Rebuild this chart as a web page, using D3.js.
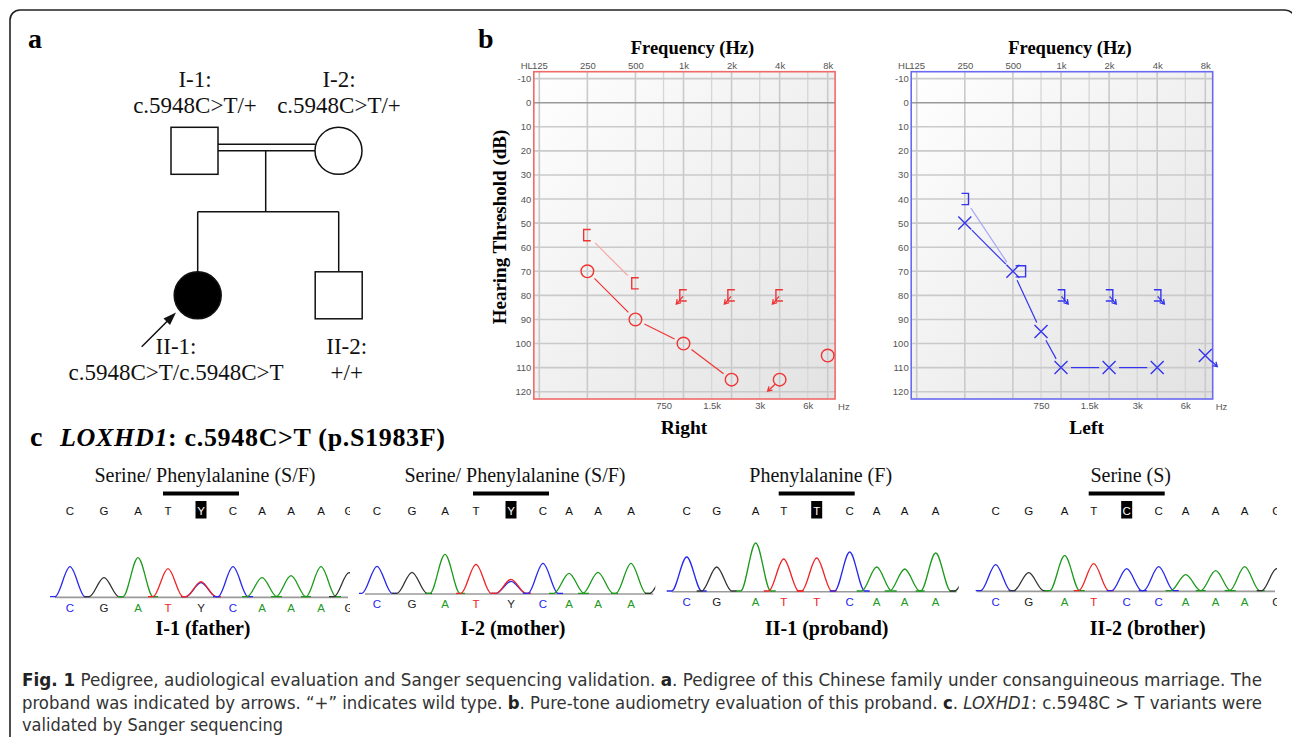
<!DOCTYPE html>
<html>
<head>
<meta charset="utf-8">
<script src="https://cdn.jsdelivr.net/npm/d3@7"></script>
<style>
  body { margin: 0; background: #fff; }
  svg { display: block; }
</style>
</head>
<body>
<div id="fig"></div>
<script>
// ---- data ----
// audiogram axes
const freqTicks = [125, 250, 500, 1000, 2000, 4000, 8000];
const freqTickLabels = ["125", "250", "500", "1k", "2k", "4k", "8k"];
const midFreqTicks = [750, 1500, 3000, 6000];
const midFreqLabels = ["750", "1.5k", "3k", "6k"];
const dbTicks = [-10, 0, 10, 20, 30, 40, 50, 60, 70, 80, 90, 100, 110, 120];

// right ear: air (circles) and masked bone ([)
const rightAirFreq = [250, 500, 1000, 2000, 4000, 8000];
const rightAirDb = [70, 90, 100, 115, 115, 105];
const rightAirNoResp = [0, 0, 0, 0, 1, 0];
const rightAirJoin = [1, 1, 1, 0, 0];
const rightBoneFreq = [250, 500, 1000, 2000, 4000];
const rightBoneDb = [55, 75, 80, 80, 80];
const rightBoneNoResp = [0, 0, 1, 1, 1];
const rightBoneJoin = [1, 0, 0, 0];

// left ear: air (crosses) and masked bone (])
const leftAirFreq = [250, 500, 750, 1000, 2000, 4000, 8000];
const leftAirDb = [50, 70, 95, 110, 110, 110, 105];
const leftAirNoResp = [0, 0, 0, 0, 0, 0, 1];
const leftAirJoin = [1, 1, 1, 1, 1, 0];
const leftBoneFreq = [250, 500, 1000, 2000, 4000];
const leftBoneDb = [40, 70, 80, 80, 80];
const leftBoneNoResp = [0, 0, 1, 1, 1];
const leftBoneJoin = [1, 0, 0, 0];

// pedigree
const pedIds = ["I-1:", "I-2:", "II-1:", "II-2:"];
const pedGenotypes = ["c.5948C>T/+", "c.5948C>T/+", "c.5948C>T/c.5948C>T", "+/+"];
const pedSex = ["M", "F", "F", "M"];
const pedAffected = [0, 0, 1, 0];

// sanger traces (scan position, called base, peak height, minor peak at Y)
const seqSamples = ["I-1 (father)", "I-2 (mother)", "II-1 (proband)", "II-2 (brother)"];
const seqTitles = ["Serine/ Phenylalanine (S/F)", "Serine/ Phenylalanine (S/F)", "Phenylalanine (F)", "Serine (S)"];
const seqVariantIndex = 4;
const fatherScan = [15, 49, 83, 113, 146, 178, 207, 236, 266, 294];
const fatherCalls = ["C", "G", "A", "T", "Y", "C", "A", "A", "A", "G"];
const fatherHeight = [30, 19, 39, 28, 15, 30, 19, 21, 30, 24];
const fatherMinor = [0, 0, 0, 0, 14, 0, 0, 0, 0, 0];
const motherScan = [12, 47, 80, 111, 146, 178, 204, 233, 266, 300];
const motherCalls = ["C", "G", "A", "T", "Y", "C", "A", "A", "A", "G"];
const motherHeight = [27, 21, 39, 29, 14, 30, 20, 21, 30, 20];
const motherMinor = [0, 0, 0, 0, 12, 0, 0, 0, 0, 0];
const probandScan = [15, 45, 84, 112, 145, 178, 205, 233, 264, 298];
const probandCalls = ["C", "G", "A", "T", "T", "C", "A", "A", "A", "G"];
const probandHeight = [34, 24, 48, 32, 33, 39, 24, 22, 38, 20];
const probandMinor = [0, 0, 0, 0, 0, 0, 0, 0, 0, 0];
const brotherScan = [19, 52, 88, 117, 150, 182, 209, 239, 268, 300];
const brotherCalls = ["C", "G", "A", "T", "C", "C", "A", "A", "A", "G"];
const brotherHeight = [26, 18, 35, 27, 22, 24, 16, 20, 24, 22];
const brotherMinor = [0, 0, 0, 0, 0, 0, 0, 0, 0, 0];

// ---- layout ----
const W = 1292, H = 737;
const serif = "'Liberation Serif', 'Times New Roman', serif";
const sans = "'Liberation Sans', Arial, sans-serif";
const baseColor = { A: "#1c9a1c", C: "#2727ee", G: "#222", T: "#ee2424", Y: "#222" };

const svg = d3.select("#fig").append("svg")
  .attr("width", W)
  .attr("height", H);
const defs = svg.append("defs");

// outer frame
svg.append("rect")
  .attr("x", 10).attr("y", 10)
  .attr("width", 1285).attr("height", 800)
  .attr("rx", 10)
  .attr("fill", "none")
  .attr("stroke", "#222")
  .attr("stroke-width", 1.6);

// panel letters
[["a", 28, 48], ["b", 478, 48], ["c", 30, 446]].forEach(([t, x, y]) => {
  svg.append("text")
    .attr("x", x).attr("y", y)
    .style("font-family", serif)
    .style("font-weight", "bold")
    .style("font-size", "28px")
    .text(t);
});

// ---- a: pedigree ----
const ped = svg.append("g")
  .attr("fill", "none")
  .attr("stroke", "#111")
  .attr("stroke-width", 1.5);
const pedPos = [[194.5, 150.8], [338.5, 150.8], [197.7, 295.3], [338.7, 295.3]];
const pedSize = 47;
pedPos.forEach(([cx, cy], i) => {
  if (pedSex[i] === "M") {
    ped.append("rect")
      .attr("x", cx - pedSize / 2).attr("y", cy - pedSize / 2)
      .attr("width", pedSize).attr("height", pedSize)
      .attr("fill", pedAffected[i] ? "#000" : "#fff");
  } else {
    ped.append("circle")
      .attr("cx", cx).attr("cy", cy).attr("r", pedSize / 2)
      .attr("fill", pedAffected[i] ? "#000" : "#fff");
  }
});
// consanguineous marriage (double line), descent and sibship lines
const mx0 = pedPos[0][0] + pedSize / 2, mx1 = pedPos[1][0] - pedSize / 2;
ped.append("line").attr("x1", mx0).attr("x2", mx1).attr("y1", 144.3).attr("y2", 144.3);
ped.append("line").attr("x1", mx0).attr("x2", mx1).attr("y1", 150.7).attr("y2", 150.7);
ped.append("line").attr("x1", 265.7).attr("x2", 265.7).attr("y1", 150.7).attr("y2", 211.7);
ped.append("line").attr("x1", pedPos[2][0]).attr("x2", pedPos[3][0]).attr("y1", 211.7).attr("y2", 211.7);
ped.append("line").attr("x1", pedPos[2][0]).attr("x2", pedPos[2][0]).attr("y1", 211.7).attr("y2", pedPos[2][1] - pedSize / 2);
ped.append("line").attr("x1", pedPos[3][0]).attr("x2", pedPos[3][0]).attr("y1", 211.7).attr("y2", pedPos[3][1] - pedSize / 2);
// proband arrow
ped.append("line").attr("x1", 141.7).attr("y1", 346.7).attr("x2", 172).attr("y2", 316.5);
ped.append("path")
  .attr("d", "M176,312.5 L163.5,318.5 L170,325 Z")
  .attr("fill", "#111").attr("stroke", "none");

const pedTextPos = [[195, 86.7, 113.3], [339, 86.7, 113.3], [176, 354, 380], [346.7, 354, 380]];
pedTextPos.forEach(([x, y1, y2], i) => {
  [[pedIds[i], y1], [pedGenotypes[i], y2]].forEach(([t, y]) => {
    svg.append("text")
      .attr("x", x).attr("y", y)
      .attr("text-anchor", "middle")
      .style("font-family", serif)
      .style("font-size", "23px")
      .attr("fill", "#111")
      .text(t);
  });
});

// ---- b: audiograms ----
function noRespArrow(g, x1, y1, x2, y2, color) {
  const a = Math.atan2(y2 - y1, x2 - x1), L = 5;
  const p = d3.path();
  p.moveTo(x1, y1); p.lineTo(x2, y2);
  p.moveTo(x2 - L * Math.cos(a - 0.55), y2 - L * Math.sin(a - 0.55));
  p.lineTo(x2, y2);
  p.lineTo(x2 - L * Math.cos(a + 0.55), y2 - L * Math.sin(a + 0.55));
  g.append("path").attr("d", p.toString())
    .attr("fill", "none").attr("stroke", color).attr("stroke-width", 1.3);
}

function drawAudiogram(opt) {
  const g = svg.append("g");
  const x = d3.scaleLog().base(2).domain([125, 8000]).range([opt.x125, opt.x8k]);
  const y = d3.scaleLinear().domain([-10, 120]).range([78.6, 391.7]);
  const left = opt.x125 - 5.5, right = opt.x8k + 7.4, top = 71.7, bottom = 399;

  const grad = defs.append("linearGradient").attr("id", opt.id + "-bg")
    .attr("x1", 0).attr("y1", 0).attr("x2", 1).attr("y2", 1);
  grad.append("stop").attr("offset", "0%").attr("stop-color", "#ffffff");
  grad.append("stop").attr("offset", "100%").attr("stop-color", "#e2e2e2");
  g.append("rect")
    .attr("x", left).attr("y", top)
    .attr("width", right - left).attr("height", bottom - top)
    .attr("fill", `url(#${opt.id}-bg)`);

  // grid
  g.selectAll(".vmid").data(midFreqTicks).enter().append("line")
    .attr("x1", d => x(d)).attr("x2", d => x(d))
    .attr("y1", top).attr("y2", bottom)
    .attr("stroke", "#d6d6d6").attr("stroke-width", 1.3);
  g.selectAll(".voct").data(freqTicks).enter().append("line")
    .attr("x1", d => x(d)).attr("x2", d => x(d))
    .attr("y1", top).attr("y2", bottom)
    .attr("stroke", "#cacaca").attr("stroke-width", 1.6);
  g.selectAll(".hgrid").data(dbTicks).enter().append("line")
    .attr("x1", left).attr("x2", right)
    .attr("y1", d => y(d)).attr("y2", d => y(d))
    .attr("stroke", d => d === 0 ? "#9a9a9a" : "#cacaca")
    .attr("stroke-width", 1.6);

  g.append("rect")
    .attr("x", left).attr("y", top)
    .attr("width", right - left).attr("height", bottom - top)
    .attr("fill", "none")
    .attr("stroke", opt.frame).attr("stroke-width", 1.6);

  // axes (labels only)
  const styleAxis = sel => {
    sel.select(".domain").remove();
    sel.attr("font-family", sans).attr("font-size", 9.5);
    sel.selectAll("text").attr("fill", "#555");
  };
  g.append("g").attr("transform", `translate(${left},0)`)
    .call(d3.axisLeft(y).tickValues(dbTicks).tickSize(0).tickPadding(2.5)
      .tickFormat(d => String(d)))
    .call(styleAxis);
  g.append("g").attr("transform", `translate(0,${top})`)
    .call(d3.axisTop(x).tickValues(freqTicks).tickSize(0).tickPadding(3)
      .tickFormat((d, i) => freqTickLabels[i]))
    .call(styleAxis);
  g.append("g").attr("transform", `translate(0,${bottom})`)
    .call(d3.axisBottom(x).tickValues(midFreqTicks).tickSize(0).tickPadding(3)
      .tickFormat((d, i) => midFreqLabels[i]))
    .call(styleAxis);
  g.append("text").attr("x", left - 1).attr("y", top - 3)
    .attr("text-anchor", "end")
    .style("font-family", sans).style("font-size", "9.5px").attr("fill", "#555")
    .text("HL");
  g.append("text").attr("x", right + 3).attr("y", bottom + 11)
    .style("font-family", sans).style("font-size", "9.5px").attr("fill", "#555")
    .text("Hz");

  // titles
  g.append("text").attr("x", (left + right) / 2 + 8).attr("y", 54)
    .attr("text-anchor", "middle")
    .style("font-family", serif).style("font-weight", "bold").style("font-size", "18.5px")
    .text("Frequency (Hz)");
  g.append("text").attr("x", opt.earX).attr("y", 434)
    .attr("text-anchor", "middle")
    .style("font-family", serif).style("font-weight", "bold").style("font-size", "19.5px")
    .text(opt.ear);

  const c = opt.color, dir = opt.dir;
  const lines = g.append("g").attr("fill", "none").attr("stroke-width", 1.2);

  function joinLines(freqs, dbs, join, color, gap0, gap1) {
    join.forEach((j, i) => {
      if (!j) return;
      const x0 = x(freqs[i]), y0 = y(dbs[i]);
      const x1 = x(freqs[i + 1]), y1 = y(dbs[i + 1]);
      const len = Math.hypot(x1 - x0, y1 - y0);
      const ux = (x1 - x0) / len, uy = (y1 - y0) / len;
      lines.append("line")
        .attr("x1", x0 + ux * gap0).attr("y1", y0 + uy * gap0)
        .attr("x2", x1 - ux * gap1).attr("y2", y1 - uy * gap1)
        .attr("stroke", color);
    });
  }
  joinLines(opt.boneFreq, opt.boneDb, opt.boneJoin, opt.light, 11, 11);
  joinLines(opt.airFreq, opt.airDb, opt.airJoin, c, 10, 10);

  const marks = g.append("g").attr("fill", "none").attr("stroke", c).attr("stroke-width", 1.4);
  // air conduction symbols
  opt.airFreq.forEach((f, i) => {
    const cx = x(f), cy = y(opt.airDb[i]);
    if (opt.airMark === "circle") {
      marks.append("circle").attr("cx", cx).attr("cy", cy).attr("r", 6.3);
      if (opt.airNoResp[i]) noRespArrow(marks, cx + dir * 4.6, cy + 4.6, cx + dir * 12, cy + 11.5, c);
    } else {
      const s = 6.5;
      marks.append("path")
        .attr("d", `M${cx - s},${cy - s}L${cx + s},${cy + s}M${cx + s},${cy - s}L${cx - s},${cy + s}`);
      if (opt.airNoResp[i]) noRespArrow(marks, cx + dir * 6, cy + 5.5, cx + dir * 12, cy + 11, c);
    }
  });
  // masked bone conduction brackets
  opt.boneFreq.forEach((f, i) => {
    const fx = x(f), cy = y(opt.boneDb[i]);
    const ai = opt.airFreq.indexOf(f);
    const shift = (ai >= 0 && opt.airDb[ai] === opt.boneDb[i]) ? 9 : 0;
    const v = fx + dir * (3.7 + shift), t = fx - dir * (3.3 - (shift ? 6 : 0));
    marks.append("path")
      .attr("d", `M${t},${cy - 5.6}H${v}V${cy + 5.6}H${t}`);
    if (opt.boneNoResp[i]) noRespArrow(marks, fx + dir * 0.5, cy + 1, fx + dir * 7.2, cy + 8.7, c);
  });
}

drawAudiogram({
  id: "right", x125: 539.3, x8k: 827.7, ear: "Right", earX: 684, dir: -1,
  color: "#f03434", light: "#f6a8a8", frame: "#f06a6a",
  airMark: "circle",
  airFreq: rightAirFreq, airDb: rightAirDb, airNoResp: rightAirNoResp, airJoin: rightAirJoin,
  boneFreq: rightBoneFreq, boneDb: rightBoneDb, boneNoResp: rightBoneNoResp, boneJoin: rightBoneJoin
});
drawAudiogram({
  id: "left", x125: 916.7, x8k: 1205.3, ear: "Left", earX: 1086.7, dir: 1,
  color: "#3434f0", light: "#a8a8f6", frame: "#6a6af0",
  airMark: "cross",
  airFreq: leftAirFreq, airDb: leftAirDb, airNoResp: leftAirNoResp, airJoin: leftAirJoin,
  boneFreq: leftBoneFreq, boneDb: leftBoneDb, boneNoResp: leftBoneNoResp, boneJoin: leftBoneJoin
});

svg.append("text")
  .attr("transform", "translate(499,227) rotate(-90)")
  .attr("text-anchor", "middle")
  .attr("dy", "0.35em")
  .style("font-family", serif).style("font-weight", "bold").style("font-size", "19px")
  .text("Hearing Threshold (dB)");

// ---- c: sanger sequencing ----
const heading = svg.append("text")
  .attr("x", 60).attr("y", 446)
  .attr("textLength", 385).attr("lengthAdjust", "spacing")
  .style("font-family", serif).style("font-weight", "bold").style("font-size", "26px");
heading.append("tspan").style("font-style", "italic").text("LOXHD1");
heading.append("tspan").text(": c.5948C>T (p.S1983F)");

const seqLayout = [
  { x0: 55, x1: 348, base: 596.7, labelX: 203 },
  { x0: 365, x1: 653.3, base: 593.3, labelX: 513 },
  { x0: 671.7, x1: 956.7, base: 591, labelX: 826.7 },
  { x0: 976.7, x1: 1275, base: 590.7, labelX: 1147.7 }
];
const seqData = [
  [fatherScan, fatherCalls, fatherHeight, fatherMinor],
  [motherScan, motherCalls, motherHeight, motherMinor],
  [probandScan, probandCalls, probandHeight, probandMinor],
  [brotherScan, brotherCalls, brotherHeight, brotherMinor]
];
const peakLine = d3.line().curve(d3.curveMonotoneX);

seqData.forEach(([scan, calls, heights, minor], k) => {
  const L = seqLayout[k];
  const x = d3.scaleLinear().domain([0, L.x1 - L.x0]).range([L.x0, L.x1]);
  const y = d3.scaleLinear().domain([0, 50]).range([L.base, L.base - 50]);
  const g = svg.append("g");

  defs.append("clipPath").attr("id", "seqclip" + k)
    .append("rect").attr("x", L.x0 - 6).attr("y", 440).attr("width", L.x1 - L.x0 + 8).attr("height", 190);

  const vx = x(scan[seqVariantIndex]);
  g.append("text").attr("x", vx + 4).attr("y", 482)
    .attr("text-anchor", "middle")
    .style("font-family", serif).style("font-size", "20px").attr("fill", "#111")
    .text(seqTitles[k]);
  g.append("rect").attr("x", vx - 38).attr("y", 491.5).attr("width", 76).attr("height", 4)
    .attr("fill", "#000");
  g.append("rect").attr("x", vx - 5.5).attr("y", 501).attr("width", 11).attr("height", 17.5)
    .attr("fill", "#000");

  const inner = g.append("g").attr("clip-path", `url(#seqclip${k})`);
  // called bases, top row
  inner.selectAll(".top").data(calls).enter().append("text")
    .attr("x", (d, i) => x(scan[i])).attr("y", 514.5)
    .attr("text-anchor", "middle")
    .style("font-family", sans).style("font-size", "11.5px")
    .attr("fill", (d, i) => i === seqVariantIndex ? "#fff" : "#111")
    .text(d => d);

  // baseline
  inner.append("line").attr("x1", L.x0).attr("x2", L.x1)
    .attr("y1", L.base + 0.7).attr("y2", L.base + 0.7)
    .attr("stroke", "#9a9a9a").attr("stroke-width", 1.6);

  // peaks, one per channel signal
  const peaks = [];
  calls.forEach((b, i) => {
    if (b === "Y") {
      peaks.push({ ch: "C", s: scan[i], h: minor[i] });
      peaks.push({ ch: "T", s: scan[i], h: heights[i] });
    } else {
      peaks.push({ ch: b, s: scan[i], h: heights[i] });
    }
  });
  const w = 15;
  inner.selectAll(".peak").data(peaks).enter().append("path")
    .attr("d", d => peakLine([
      [x(d.s - w - 5), y(0)], [x(d.s - w), y(0)], [x(d.s), y(d.h)],
      [x(d.s + w), y(0)], [x(d.s + w + 5), y(0)]
    ]))
    .attr("fill", "none")
    .attr("stroke", d => d.ch === "G" ? "#333" : baseColor[d.ch])
    .attr("stroke-width", 1.3);

  // called bases, bottom row
  inner.selectAll(".bot").data(calls).enter().append("text")
    .attr("x", (d, i) => x(scan[i])).attr("y", L.base + 15)
    .attr("text-anchor", "middle")
    .style("font-family", sans).style("font-size", "11.5px")
    .attr("fill", d => baseColor[d])
    .text(d => d);

  g.append("text").attr("x", L.labelX).attr("y", 635)
    .attr("text-anchor", "middle")
    .style("font-family", serif).style("font-weight", "bold").style("font-size", "20px")
    .text(seqSamples[k]);
});

// ---- caption ----
const captionLines = [
  [["b", "Fig. 1"], ["", " Pedigree, audiological evaluation and Sanger sequencing validation. "], ["b", "a"],
   ["", ". Pedigree of this Chinese family under consanguineous marriage. The"]],
  [["", "proband was indicated by arrows. \u201c+\u201d indicates wild type. "], ["b", "b"],
   ["", ". Pure-tone audiometry evaluation of this proband. "], ["b", "c"], ["", ". "], ["i", "LOXHD1"],
   ["", ": c.5948C > T variants were"]],
  [["", "validated by Sanger sequencing"]]
];
const captionWidths = [1240, 1240, 261];
captionLines.forEach((parts, li) => {
  const t = svg.append("text")
    .attr("x", 22).attr("y", 686 + li * 22.5)
    .attr("textLength", captionWidths[li]).attr("lengthAdjust", "spacingAndGlyphs")
    .style("font-family", "'Liberation Sans Narrow', 'DejaVu Sans Condensed', 'Open Sans', sans-serif")
    .style("font-size", "17px")
    .attr("fill", "#333");
  parts.forEach(([st, s]) => {
    const sp = t.append("tspan").text(s);
    if (st === "b") sp.style("font-weight", "bold").attr("fill", "#222");
    if (st === "i") sp.style("font-style", "italic");
  });
});
</script>
</body>
</html>
